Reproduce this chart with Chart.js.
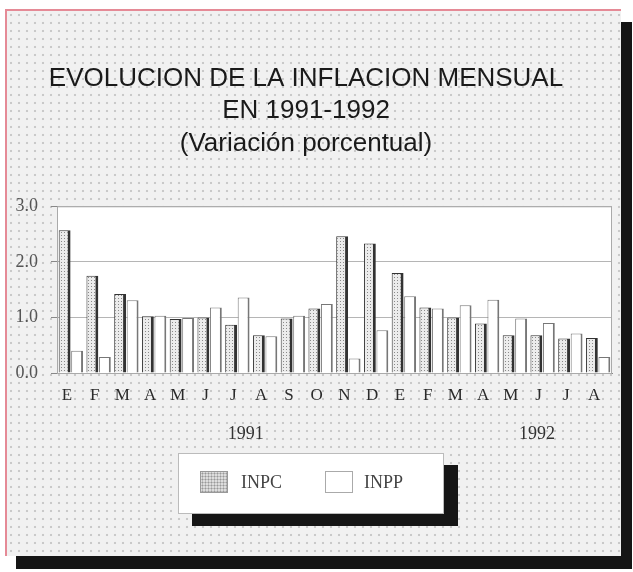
<!DOCTYPE html>
<html>
<head>
<meta charset="utf-8">
<script src="https://cdn.jsdelivr.net/npm/chart.js@4.4.1/dist/chart.umd.min.js"></script>
<style>
  body { margin: 0; background: #fff; width: 633px; height: 572px; overflow: hidden; position: relative; }
  #frame {
    position: absolute; left: 5px; top: 9px; width: 614px; height: 545px;
    border-left: 2px solid #e58a96; border-top: 2px solid #e58a96;
    background-color: #f1f1f1;
    background-image: radial-gradient(#c9c9c9 1.1px, transparent 1.6px);
    background-size: 8px 8px;
    box-shadow: 11px 13px 0 #151515;
  }
  #c { position: absolute; left: 0; top: 0; }
  #legend {
    position: absolute; left: 178px; top: 453px; width: 264px; height: 59px;
    background: #fff; border: 1px solid #bbb;
    box-shadow: 14px 12px 0 #151515;
    font-family: "Liberation Serif", "Times New Roman", serif; font-size: 18px; color: #444;
  }
  .sw { position: absolute; top: 17px; width: 26px; height: 20px; border: 1px solid #999; }
  .lb { position: absolute; top: 17px; line-height: 22px; }
</style>
</head>
<body>
<div id="frame"></div>
<canvas id="c" width="633" height="572"></canvas>
<div id="legend">
  <div class="sw" style="left:21px;background-color:#ddd;background-image:radial-gradient(#999 0.8px, transparent 1.2px);background-size:3px 3px;"></div>
  <div class="lb" style="left:62px;">INPC</div>
  <div class="sw" style="left:146px;background:#fff;border-color:#aaa;"></div>
  <div class="lb" style="left:185px;">INPP</div>
</div>
<script>
// months, 1991 (E..D) and 1992 (E..A)
const months = ['E','F','M','A','M','J','J','A','S','O','N','D','E','F','M','A','M','J','J','A'];
const years = ['1991', '1992'];
// monthly change, %
const inpc = [2.57, 1.75, 1.42, 1.02, 0.97, 1.00, 0.87, 0.68, 0.98, 1.16, 2.46, 2.33, 1.80, 1.18, 1.00, 0.89, 0.68, 0.68, 0.62, 0.63];
const inpp = [0.40, 0.29, 1.31, 1.03, 0.99, 1.18, 1.36, 0.66, 1.03, 1.24, 0.26, 0.77, 1.38, 1.16, 1.22, 1.32, 0.98, 0.90, 0.71, 0.29];
const yTicks = [0, 1, 2, 3];

// dotted grey fill for INPC
function dotPattern() {
    const p = document.createElement('canvas');
    p.width = 3; p.height = 3;
    const g = p.getContext('2d');
    g.fillStyle = '#ececec';
    g.fillRect(0, 0, 3, 3);
    g.fillStyle = '#8a8a8a';
    g.fillRect(1, 1, 1, 1);
    return g.createPattern(p, 'repeat');
}

const plotBox = {
    id: 'plotBox',
    beforeDraw(chart) {
        const a = chart.chartArea, ctx = chart.ctx;
        ctx.save();
        ctx.fillStyle = '#fff';
        ctx.fillRect(a.left, a.top, a.right - a.left, a.bottom - a.top);
        ctx.restore();
    },
    afterDraw(chart) {
        const a = chart.chartArea, ctx = chart.ctx;
        ctx.save();
        ctx.strokeStyle = '#aaa';
        ctx.lineWidth = 1;
        ctx.strokeRect(a.left + 0.5, a.top + 0.5, a.right - a.left - 1, a.bottom - a.top);
        // year captions under the month labels
        const x = chart.scales.x;
        ctx.fillStyle = '#333';
        ctx.font = '18px "Liberation Serif", serif';
        ctx.textAlign = 'center';
        ctx.textBaseline = 'middle';
        ctx.fillText(years[0], x.getPixelForValue(6.3), 434);
        ctx.fillText(years[1], x.getPixelForValue(16.8), 434);
        ctx.restore();
    }
};

const ctx = document.getElementById('c').getContext('2d');
new Chart(ctx, {
    type: 'bar',
    data: {
        labels: months,
        datasets: [{
            label: 'INPC',
            data: inpc,
            backgroundColor: dotPattern(),
            borderColor: '#333',
            borderWidth: { left: 1, top: 1, right: 3, bottom: 0 },
            borderSkipped: false,
            categoryPercentage: 0.9,
            barPercentage: 0.95
        }, {
            label: 'INPP',
            data: inpp,
            backgroundColor: '#fff',
            borderColor: '#777',
            borderWidth: { left: 1, top: 1, right: 2, bottom: 0 },
            borderSkipped: false,
            categoryPercentage: 0.9,
            barPercentage: 0.95
        }]
    },
    options: {
        responsive: false,
        animation: false,
        layout: { padding: { left: 0, right: 21, top: 0, bottom: 154 } },
        plugins: {
            legend: { display: false },
            tooltip: { enabled: false },
            title: {
                display: true,
                text: ['EVOLUCION DE LA INFLACION MENSUAL', 'EN 1991-1992', '(Variación porcentual)'],
                color: '#1a1a1a',
                font: { family: '"Liberation Sans", Arial, sans-serif', size: 26, weight: 'normal', lineHeight: 1.26 },
                padding: { top: 62, bottom: 46 }
            }
        },
        scales: {
            x: {
                grid: { display: false },
                border: { color: '#888' },
                ticks: {
                    color: '#2a2a2a',
                    padding: 4,
                    labelOffset: -4,
                    maxRotation: 0,
                    autoSkip: false,
                    font: { family: '"Liberation Serif", serif', size: 17 }
                },
                afterFit(scale) { scale.height = 45; }
            },
            y: {
                min: 0,
                max: 3,
                afterBuildTicks(scale) { scale.ticks = yTicks.map(v => ({ value: v })); },
                grid: { color: '#b5b5b5', tickLength: 6, tickColor: '#888' },
                border: { color: '#888' },
                ticks: {
                    color: '#555',
                    padding: 13,
                    font: { family: '"Liberation Serif", serif', size: 18 },
                    callback: v => v.toFixed(1)
                },
                afterFit(scale) { scale.width = 57; }
            }
        }
    },
    plugins: [plotBox]
});
</script>
</body>
</html>
